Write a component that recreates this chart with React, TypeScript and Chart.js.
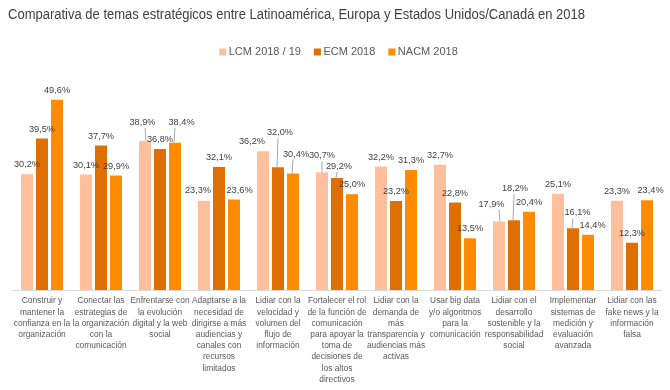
import React, { useEffect, useRef } from "react";
import { Chart, registerables } from "chart.js";

Chart.register(...registerables);

const TITLE = "Comparativa de temas estratégicos entre Latinoamérica, Europa y Estados Unidos/Canadá en 2018";

const categories: string[][] = [
  ["Construir y", "mantener la", "confianza en la", "organización"],
  ["Conectar las", "estrategias de", "la organización", "con la", "comunicación"],
  ["Enfrentarse con", "la evolución", "digital y la web", "social"],
  ["Adaptarse a la", "necesidad de", "dirigirse a más", "audiencias y", "canales con", "recursos", "limitados"],
  ["Lidiar con la", "velocidad y", "volumen del", "flujo de", "información"],
  ["Fortalecer el rol", "de la función de", "comunicación", "para apoyar la", "toma de", "decisiones de", "los altos", "directivos"],
  ["Lidiar con la", "demanda de", "más", "transparencia y", "audiencias más", "activas"],
  ["Usar big data", "y/o algoritmos", "para la", "comunicación"],
  ["Lidiar con el", "desarrollo", "sostenible y la", "responsabilidad", "social"],
  ["Implementar", "sistemas de", "medición y", "evaluación", "avanzada"],
  ["Lidiar con las", "fake news y la", "información", "falsa"],
];

const seriesNames = ["LCM 2018 / 19", "ECM 2018", "NACM 2018"];
const lcm = [30.2, 30.1, 38.9, 23.3, 36.2, 30.7, 32.2, 32.7, 17.9, 25.1, 23.3];
const ecm = [39.5, 37.7, 36.8, 32.1, 32.0, 29.2, 23.2, 22.8, 18.2, 16.1, 12.3];
const nacm = [49.6, 29.9, 38.4, 23.6, 30.4, 25.0, 31.3, 13.5, 20.4, 14.4, 23.4];

const colors = ["#FDBF9C", "#DF6F00", "#FF8C00"];

const FONT = "'Liberation Sans', Arial, sans-serif";
const LABEL_SX = 0.97;

// label offsets [dx, dy, leader] relative to default position (centre, bar top - 10)
const labelOffsets: Record<string, [number, number, boolean]> = {
  "0-2": [-2.5, -9, true],
  "2-2": [6.5, -11, true],
  "0-3": [-6, -1, false],
  "2-3": [5.5, 0, false],
  "0-4": [-11, 0, false],
  "1-4": [2, -25, true],
  "2-4": [3, -10, true],
  "0-5": [0, -7, true],
  "1-5": [2, -2, true],
  "0-8": [-7.5, -8, true],
  "1-8": [1, -22, true],
  "1-9": [4.5, -6, true],
  "2-9": [4.5, 0, false],
  "2-10": [3.5, 0, false],
};

const fmt = (v: number) => v.toFixed(1).replace(".", ",") + "%";

function drawText(ctx: any, text: string, x: number, y: number, align: string, sx: number) {
  ctx.save();
  ctx.translate(x, y);
  ctx.scale(sx, 1);
  ctx.textAlign = align;
  ctx.textBaseline = "middle";
  ctx.fillText(text, 0, 0);
  ctx.restore();
}

const decorPlugin = {
  id: "decor",
  afterDraw(chart: any) {
    const ctx = chart.ctx;
    ctx.save();
    // title
    ctx.fillStyle = "#404040";
    ctx.font = `14px ${FONT}`;
    const tw = ctx.measureText(TITLE).width;
    drawText(ctx, TITLE, 8, 15, "left", 577 / tw);

    // legend
    ctx.font = `11px ${FONT}`;
    const gap = 13;
    const box = 7;
    const boxGap = 9.5;
    const widths = seriesNames.map((n) => ctx.measureText(n).width);
    const total = widths.reduce((a, w) => a + boxGap + w, 0) + gap * (seriesNames.length - 1);
    let x = 338.5 - total / 2;
    const ly = 52;
    seriesNames.forEach((n, i) => {
      ctx.fillStyle = colors[i];
      ctx.fillRect(x, ly - box / 2, box, box);
      ctx.fillStyle = "#595959";
      drawText(ctx, n, x + boxGap, ly, "left", 1);
      x += boxGap + widths[i] + gap;
    });

    // category labels
    const xs = chart.scales.x;
    ctx.font = `8.4px ${FONT}`;
    ctx.fillStyle = "#595959";
    categories.forEach((lines, i) => {
      const cx = xs.getPixelForValue(i);
      lines.forEach((ln, k) => {
        drawText(ctx, ln, cx, 301 + k * 11.2, "center", 1);
      });
    });

    // data labels
    ctx.font = `9.5px ${FONT}`;
    chart.data.datasets.forEach((ds: any, di: number) => {
      const meta = chart.getDatasetMeta(di);
      meta.data.forEach((bar: any, i: number) => {
        const v = ds.data[i];
        const off = labelOffsets[`${di}-${i}`] || [0, 0, false];
        const lx = bar.x + off[0];
        const lyy = bar.y - 9.5 + off[1];
        const txt = fmt(v);
        if (off[2]) {
          const w = ctx.measureText(txt).width * LABEL_SX;
          const sx = Math.min(Math.max(bar.x, lx - w / 2 + 2), lx + w / 2 - 2);
          ctx.strokeStyle = "#A6A6A6";
          ctx.lineWidth = 1;
          ctx.beginPath();
          ctx.moveTo(sx, lyy + 5.5);
          ctx.lineTo(bar.x + (off[0] > 0 ? -1 : off[0] < 0 ? 1 : 0), bar.y);
          ctx.stroke();
        }
        ctx.fillStyle = "#404040";
        drawText(ctx, txt, lx, lyy, "center", LABEL_SX);
      });
    });
    ctx.restore();
  },
};

export default function App() {
  const ref = useRef<HTMLCanvasElement | null>(null);
  useEffect(() => {
    if (!ref.current) return;
    const chart = new Chart(ref.current, {
      type: "bar",
      data: {
        labels: categories.map((c) => c.join(" ")),
        datasets: [lcm, ecm, nacm].map((d, i) => ({
          label: seriesNames[i],
          data: d,
          backgroundColor: colors[i],
          borderWidth: 0,
          categoryPercentage: 0.763,
          barPercentage: 0.8,
        })),
      },
      options: {
        responsive: false,
        animation: false,
        layout: { padding: { top: 60, left: 12.5, right: 8.5, bottom: 0 } },
        plugins: {
          legend: { display: false },
          title: { display: false },
          tooltip: { enabled: false },
        },
        scales: {
          x: {
            grid: { display: false, drawTicks: false },
            border: { display: true, color: "#D9D9D9", width: 1 },
            ticks: { display: false },
            afterFit(scale: any) {
              scale.height = 100;
            },
          },
          y: {
            display: false,
            min: 0,
            max: 60,
          },
        },
      },
      plugins: [decorPlugin],
    });
    return () => chart.destroy();
  }, []);
  return (
    <div style={{ position: "absolute", left: 0, top: 0, width: 670, height: 390, background: "#fff" }}>
      <canvas ref={ref} width={670} height={390} />
    </div>
  );
}
